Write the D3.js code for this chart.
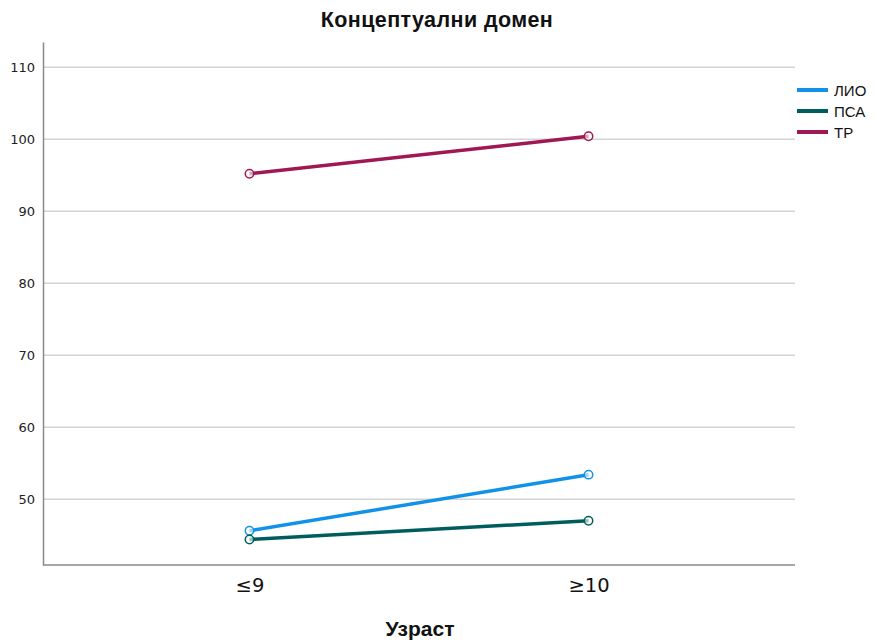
<!DOCTYPE html>
<html><head><meta charset="utf-8">
<script src="https://cdn.jsdelivr.net/npm/d3@7"></script>
<style>body{margin:0;background:#fff}</style>
</head><body>
<script>
const categories = ["≤9", "≥10"];
const seriesNames = ["ЛИО", "ПСА", "ТР"];
const valuesLIO = [45.6, 53.4];
const valuesPSA = [44.4, 47.0];
const valuesTR = [95.2, 100.4];
const yTicks = [50, 60, 70, 80, 90, 100, 110];
const colors = ["#1192e8", "#005d5d", "#9f1853"];
const series = [valuesLIO, valuesPSA, valuesTR];

const W = 877, H = 642;
const m = {l: 43, r: 82, t: 42, b: 77};
const svg = d3.select("body").append("svg").attr("width", W).attr("height", H);

const x = d3.scalePoint().domain(categories).range([m.l, W - m.r]).padding(0.609);
const y = d3.scaleLinear().domain([40.85, 113.5]).range([H - m.b, m.t]);

// gridlines
svg.append("g").selectAll("line").data(yTicks).join("line")
  .attr("x1", m.l).attr("x2", W - m.r)
  .attr("y1", d => y(d)).attr("y2", d => y(d))
  .attr("stroke", "#d4d4d4").attr("stroke-width", 1.5);

// y axis
const ya = svg.append("g").attr("transform", `translate(${m.l},0)`)
  .call(d3.axisLeft(y).tickValues(yTicks).tickSize(0).tickPadding(8));
ya.select(".domain").attr("stroke", "#8a8a8a").attr("stroke-width", 1.5);
ya.selectAll("text").attr("font-family", "DejaVu Sans").attr("font-size", 13).attr("fill", "#222");

// x axis
const xa = svg.append("g").attr("transform", `translate(0,${H - m.b})`)
  .call(d3.axisBottom(x).tickSize(0).tickPadding(13));
xa.select(".domain").attr("stroke", "#8a8a8a").attr("stroke-width", 1.5).attr("d", `M${m.l},0H${W - m.r}`);
xa.selectAll("text").attr("font-family", "DejaVu Sans").attr("font-size", 19.5).attr("fill", "#111");

// lines
const line = d3.line().x((d, i) => x(categories[i])).y(d => y(d));
series.forEach((vals, si) => {
  svg.append("path").datum(vals).attr("d", line)
    .attr("fill", "none").attr("stroke", colors[si]).attr("stroke-width", 3.5);
  svg.append("g").selectAll("circle").data(vals).join("circle")
    .attr("cx", (d, i) => x(categories[i])).attr("cy", d => y(d)).attr("r", 4.2)
    .attr("fill", "#fff").attr("fill-opacity", 0.6)
    .attr("stroke", colors[si]).attr("stroke-width", 1.5);
});

// title
svg.append("text").attr("x", 437).attr("y", 27).attr("text-anchor", "middle")
  .attr("font-family", "Liberation Sans, Arial").attr("font-weight", "bold").attr("font-size", 21.5)
  .attr("letter-spacing", 0.4)
  .attr("fill", "#111").text("Концептуални домен");

// x title
svg.append("text").attr("x", 420).attr("y", 636).attr("text-anchor", "middle")
  .attr("font-family", "Liberation Sans, Arial").attr("font-weight", "bold").attr("font-size", 21)
  .attr("fill", "#111").text("Узраст");

// legend
const lg = svg.append("g").attr("transform", "translate(797,90)");
seriesNames.forEach((n, i) => {
  lg.append("line").attr("x1", 0).attr("x2", 31).attr("y1", i * 21).attr("y2", i * 21)
    .attr("stroke", colors[i]).attr("stroke-width", 4);
  lg.append("text").attr("x", 37).attr("y", i * 21 + 5.5)
    .attr("font-family", "Liberation Sans, Arial").attr("font-size", 15).attr("fill", "#111").text(n);
});
</script>
</body></html>
